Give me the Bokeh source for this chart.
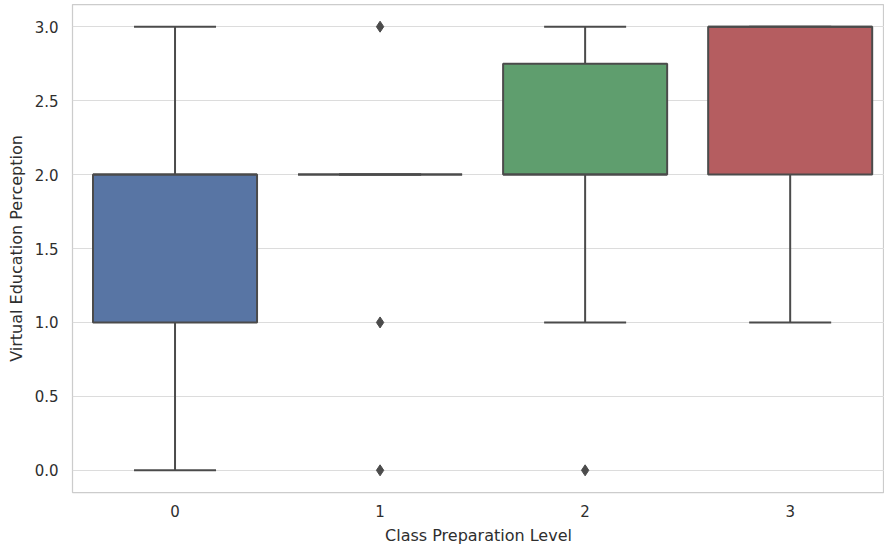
from bokeh.plotting import figure
from bokeh.models import ColumnDataSource, FixedTicker, CustomJSTickFormatter
from bokeh.embed import file_html
from bokeh.resources import INLINE

# Box statistics
categories = ["0", "1", "2", "3"]
q1 = [1.0, 2.0, 2.0, 2.0]
median = [2.0, 2.0, 2.0, 3.0]
q3 = [2.0, 2.0, 2.75, 3.0]
whisker_low = [0.0, 2.0, 1.0, 1.0]
whisker_high = [3.0, 2.0, 3.0, 3.0]
outlier_cat = ["1", "1", "1", "2"]
outlier_val = [3.0, 1.0, 0.0, 0.0]
box_colors = ["#5875a4", "#cc8963", "#5f9e6e", "#b55d60"]
y_ticks = [0.0, 0.5, 1.0, 1.5, 2.0, 2.5, 3.0]

LINE = "#4b4b4b"
TEXT = "#2e2e2e"
BOX_W = 0.8
CAP_W = 0.4

xpos = list(range(len(categories)))
src = ColumnDataSource(dict(
    x=xpos, q1=q1, med=median, q3=q3, lo=whisker_low, hi=whisker_high,
    color=box_colors,
    xl=[x - BOX_W / 2 for x in xpos], xr=[x + BOX_W / 2 for x in xpos],
    cl=[x - CAP_W / 2 for x in xpos], cr=[x + CAP_W / 2 for x in xpos],
))
osrc = ColumnDataSource(dict(x=[categories.index(c) for c in outlier_cat], y=outlier_val))

p = figure(width=884, height=548, output_backend="svg", toolbar_location=None,
           x_range=(-0.5, 3.46), y_range=(-0.15, 3.15),
           min_border_left=72, min_border_right=0, min_border_top=4, min_border_bottom=56)

p.background_fill_color = "white"
p.border_fill_color = "white"
p.outline_line_color = "#cccccc"
p.outline_line_width = 1.25

LW = 2.0
# whiskers
p.segment(x0="x", y0="lo", x1="x", y1="q1", source=src, line_color=LINE, line_width=LW)
p.segment(x0="x", y0="q3", x1="x", y1="hi", source=src, line_color=LINE, line_width=LW)
# caps
p.segment(x0="cl", y0="lo", x1="cr", y1="lo", source=src, line_color=LINE, line_width=LW)
p.segment(x0="cl", y0="hi", x1="cr", y1="hi", source=src, line_color=LINE, line_width=LW)
# boxes
p.vbar(x="x", width=BOX_W, bottom="q1", top="q3", source=src, fill_color="color",
       line_color=LINE, line_width=LW)
# medians
p.segment(x0="xl", y0="med", x1="xr", y1="med", source=src, line_color=LINE, line_width=LW)
# outliers
p.scatter(x="x", y="y", source=osrc, marker="diamond", size=11,
          fill_color=LINE, line_color=LINE)

p.xgrid.visible = False
p.ygrid.grid_line_color = "#dcdcdc"
p.ygrid.grid_line_width = 1.2

p.xaxis.ticker = FixedTicker(ticks=xpos)
p.xaxis.major_label_overrides = {i: c for i, c in zip(xpos, categories)}
p.yaxis.ticker = FixedTicker(ticks=y_ticks)
p.yaxis.formatter = CustomJSTickFormatter(code="return tick.toFixed(1);")

for ax in (p.xaxis, p.yaxis):
    ax.axis_line_color = None
    ax.major_tick_line_color = None
    ax.minor_tick_line_color = None
    ax.major_tick_out = 0
    ax.major_tick_in = 0
    ax.minor_tick_out = 0
    ax.minor_tick_in = 0
    ax.major_label_text_font = "DejaVu Sans"
    ax.major_label_text_font_size = "15px"
    ax.major_label_text_color = TEXT
    ax.axis_label_text_font = "DejaVu Sans"
    ax.axis_label_text_font_size = "16px"
    ax.axis_label_text_font_style = "normal"
    ax.axis_label_text_color = TEXT

p.xaxis.axis_label = "Class Preparation Level"
p.yaxis.axis_label = "Virtual Education Perception"
p.xaxis.major_label_standoff = 12
p.xaxis.axis_label_standoff = 6
p.yaxis.major_label_standoff = 14
p.yaxis.axis_label_standoff = 6

open("out.html", "w").write(file_html(p, INLINE))
